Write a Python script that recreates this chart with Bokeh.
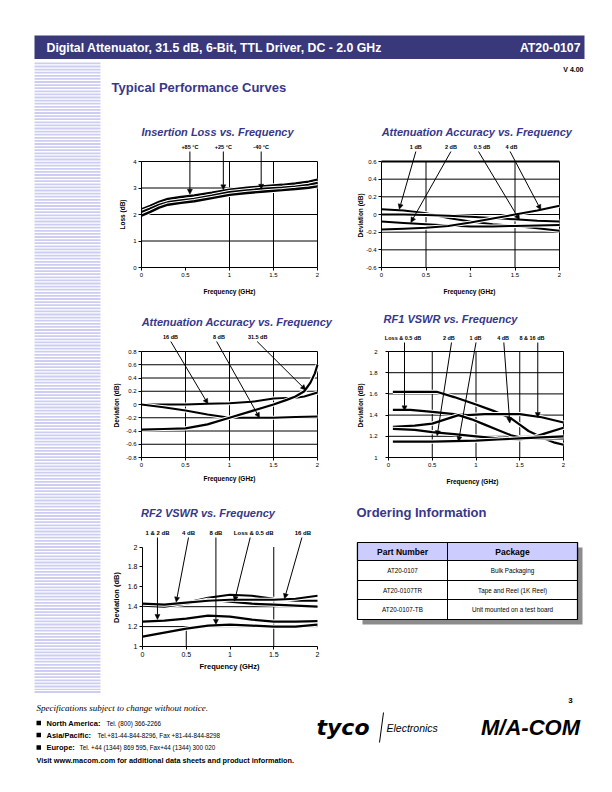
import math
from bokeh.plotting import figure
from bokeh.layouts import column, row
from bokeh.models import Range1d, FixedTicker, Arrow, NormalHead, ColumnDataSource
from bokeh.core.properties import value
from bokeh.embed import file_html
from bokeh.resources import INLINE

# ------------------------------------------------------------------ data
freq_ticks = [0, 0.5, 1, 1.5, 2]
freq_tick_labels = ["0", "0.5", "1", "1.5", "2"]

# Insertion loss vs frequency
il_freq = [0, 0.1, 0.2, 0.3, 0.45, 0.6, 0.8, 1.0, 1.2, 1.4, 1.6, 1.75, 1.9, 2.0]
il_p85 = [2.19, 2.33, 2.48, 2.59, 2.66, 2.72, 2.82, 2.94, 3.01, 3.07, 3.12, 3.17, 3.24, 3.31]
il_p25 = [2.09, 2.22, 2.36, 2.46, 2.53, 2.59, 2.71, 2.84, 2.91, 2.97, 3.01, 3.05, 3.12, 3.19]
il_m40 = [1.96, 2.10, 2.26, 2.37, 2.44, 2.50, 2.62, 2.74, 2.81, 2.87, 2.92, 2.96, 3.01, 3.06]
il_ticks = [0, 1, 2, 3, 4]
il_tick_labels = ["0", "1", "2", "3", "4"]
il_names = ["+85 °C", "+25 °C", "-40 °C"]
il_name_x = [0.55, 0.93, 1.36]
il_tip_x = [0.55, 0.93, 1.36]
il_tip_y = [2.76, 2.93, 2.95]

# Attenuation accuracy (1, 0.5, 2, 4 dB)
aa1_freq = [0, 0.25, 0.5, 0.75, 1.0, 1.25, 1.5, 1.75, 2.0]
aa1_1db = [0.06, 0.045, 0.015, -0.04, -0.08, -0.11, -0.13, -0.155, -0.185]
aa1_05db = [0.0, 0.0, -0.005, -0.015, -0.025, -0.04, -0.055, -0.07, -0.08]
aa1_2db = [-0.08, -0.095, -0.11, -0.125, -0.135, -0.135, -0.13, -0.125, -0.12]
aa1_4db = [-0.17, -0.16, -0.15, -0.13, -0.09, -0.045, 0.0, 0.045, 0.1]
aa1_ticks = [-0.6, -0.4, -0.2, 0, 0.2, 0.4, 0.6]
aa1_tick_labels = ["-0.6", "-0.4", "-0.2", "0", "0.2", "0.4", "0.6"]
aa1_names = ["1 dB", "2 dB", "0.5 dB", "4 dB"]
aa1_name_x = [0.385, 0.78, 1.13, 1.46]
aa1_start_x = [0.386, 0.78, 1.09, 1.445]
aa1_tip_x = [0.2, 0.33, 1.55, 1.79]
aa1_tip_y = [0.06, -0.09, -0.06, 0.053]

# Attenuation accuracy (8, 16, 31.5 dB)
aa2_freq_16 = [0, 0.25, 0.5, 0.75, 1.0, 1.25, 1.5, 1.65, 1.75, 1.85, 2.0]
aa2_16db = [0.0, 0.0, 0.0, 0.01, 0.02, 0.04, 0.09, 0.1, 0.1, 0.12, 0.18]
aa2_freq_8 = [0, 0.25, 0.5, 0.75, 1.0, 1.25, 1.5, 1.75, 2.0]
aa2_8db = [0.0, -0.04, -0.09, -0.15, -0.2, -0.2, -0.2, -0.19, -0.18]
aa2_freq_31 = [0, 0.25, 0.5, 0.75, 1.0, 1.25, 1.5, 1.65, 1.75, 1.85, 1.92, 1.97, 2.0]
aa2_31db = [-0.38, -0.37, -0.36, -0.3, -0.2, -0.1, 0.0, 0.07, 0.12, 0.2, 0.33, 0.47, 0.6]
aa2_ticks = [-0.8, -0.6, -0.4, -0.2, 0, 0.2, 0.4, 0.6, 0.8]
aa2_tick_labels = ["-0.8", "-0.6", "-0.4", "-0.2", "0", "0.2", "0.4", "0.6", "0.8"]
aa2_names = ["16 dB", "8 dB", "31.5 dB"]
aa2_name_x = [0.33, 0.88, 1.32]
aa2_start_x = [0.333, 0.854, 1.314]
aa2_tip_x = [0.755, 1.341, 1.866]
aa2_tip_y = [0.01, -0.2, 0.22]

# RF1 VSWR
rf1_freq_a = [0.05, 0.3, 0.55, 0.75, 1.0, 1.2, 1.4, 1.5, 1.6, 1.75, 1.9, 2.0]
rf1_a = [1.62, 1.62, 1.62, 1.57, 1.50, 1.44, 1.37, 1.31, 1.25, 1.19, 1.14, 1.12]
rf1_freq_b = [0.05, 0.25, 0.5, 0.75, 0.9, 1.1, 1.3, 1.5, 1.75, 2.0]
rf1_b = [1.45, 1.45, 1.43, 1.41, 1.40, 1.41, 1.41, 1.41, 1.38, 1.33]
rf1_freq_c = [0.05, 0.3, 0.5, 0.65, 0.8, 0.95, 1.1, 1.25, 1.4, 1.5, 1.65, 1.8, 2.0]
rf1_c = [1.29, 1.30, 1.32, 1.36, 1.40, 1.36, 1.31, 1.26, 1.21, 1.19, 1.18, 1.18, 1.18]
rf1_freq_d = [0.05, 0.3, 0.5, 0.75, 1.0, 1.25, 1.5, 1.65, 1.8, 2.0]
rf1_d = [1.27, 1.26, 1.24, 1.22, 1.20, 1.18, 1.17, 1.19, 1.23, 1.28]
rf1_freq_e = [0.05, 0.5, 1.0, 1.25, 1.5, 1.75, 2.0]
rf1_e = [1.15, 1.15, 1.16, 1.17, 1.18, 1.19, 1.20]
vswr_ticks = [1, 1.2, 1.4, 1.6, 1.8, 2]
vswr_tick_labels = ["1", "1.2", "1.4", "1.6", "1.8", "2"]
rf1_names = ["Loss & 0.5  dB", "2 dB", "1 dB", "4 dB", "8 & 16 dB"]
rf1_name_x = [0.175, 0.69, 0.995, 1.31, 1.64]
rf1_start_x = [0.183, 0.72, 1.0, 1.318, 1.706]
rf1_tip_x = [0.183, 0.556, 0.80, 1.386, 1.706]
rf1_tip_y = [1.44, 1.205, 1.15, 1.325, 1.377]

# RF2 VSWR
rf2_freq = [0, 0.25, 0.5, 0.75, 1.0, 1.25, 1.5, 1.75, 2.0]
rf2_a = [1.42, 1.41, 1.44, 1.49, 1.52, 1.51, 1.48, 1.46, 1.46]
rf2_b = [1.41, 1.40, 1.43, 1.47, 1.45, 1.43, 1.42, 1.41, 1.40]
rf2_c = [1.43, 1.42, 1.44, 1.46, 1.47, 1.47, 1.47, 1.48, 1.51]
rf2_d = [1.25, 1.26, 1.28, 1.31, 1.30, 1.27, 1.25, 1.25, 1.255]
rf2_e = [1.10, 1.14, 1.18, 1.21, 1.22, 1.21, 1.20, 1.20, 1.22]
rf2_names = ["1 & 2 dB", "4 dB", "8 dB", "Loss & 0.5  dB", "16 dB"]
rf2_name_x = [0.171, 0.526, 0.839, 1.28, 1.833]
rf2_start_x = [0.171, 0.526, 0.839, 1.231, 1.822]
rf2_tip_x = [0.171, 0.385, 0.839, 1.051, 1.623]
rf2_tip_y = [1.272, 1.446, 1.222, 1.456, 1.48]

# Ordering information
order_cols = ["Part Number", "Package"]
order_parts = ["AT20-0107", "AT20-0107TR", "AT20-0107-TB"]
order_pkgs = ["Bulk Packaging", "Tape and Reel (1K Reel)", "Unit mounted on a test board"]

# ------------------------------------------------------------------ style
FONT = "Liberation Sans"
SERIF = "Liberation Serif"
NAVY = "#38387a"
TITLE_BLUE = "#37378a"
STRIPE = "#cdcdf3"


def pfig(x0, x1, y0, y1):
    p = figure(width=x1 - x0, height=y1 - y0, x_range=Range1d(x0, x1), y_range=Range1d(y1, y0),
               output_backend="svg", toolbar_location=None, min_border=0,
               x_axis_type=None, y_axis_type=None, title=None)
    p.outline_line_color = None
    p.background_fill_color = "white"
    p.border_fill_color = "white"
    return p


def txt(p, x, y, s, size, style="normal", color="black", align="left", font=FONT, angle=0.0):
    p.text(x=[x], y=[y], text=[s], text_font=value(font), text_font_size=f"{size}px",
           text_font_style=style, text_color=color, text_align=align,
           text_baseline="middle", angle=angle)


class Chart:
    def __init__(self, box, fl, fb, xpx, ypx, ymin, ymax, yticks, ylabels,
                 ystand=2, tick_size=6):
        x0, y0, x1, y1 = box
        self.fl, self.fb, self.xpx, self.ypx, self.ymin = fl, fb, xpx, ypx, ymin
        p = figure(width=x1 - x0, height=y1 - y0,
                   x_range=Range1d(self.dx(x0), self.dx(x1)),
                   y_range=Range1d(self.dy(y1), self.dy(y0)),
                   min_border=0, output_backend="svg", toolbar_location=None, title=None)
        p.outline_line_color = None
        p.grid.visible = False
        p.background_fill_color = "white"
        p.border_fill_color = "white"
        for ax, ticks, labels, bounds, stand, loc in (
                (p.xaxis[0], freq_ticks, freq_tick_labels, (0, 2), 2, ymin),
                (p.yaxis[0], yticks, ylabels, (ymin, ymax), ystand, 0)):
            ax.fixed_location = loc
            ax.ticker = FixedTicker(ticks=ticks)
            ax.major_label_overrides = dict(zip(ticks, labels))
            ax.bounds = bounds
            ax.minor_tick_line_color = None
            ax.major_tick_out = 3
            ax.major_tick_in = 0
            ax.major_tick_line_color = "black"
            ax.axis_line_color = "black"
            ax.axis_line_width = 1
            ax.major_label_standoff = stand
            ax.major_label_text_font = FONT
            ax.major_label_text_font_size = f"{tick_size}px"
            ax.major_label_text_color = "black"
        self.p = p
        self.ymax = ymax

    def dx(self, px):
        return (px - self.fl) / self.xpx

    def dy(self, py):
        return self.ymin + (self.fb - py) / self.ypx

    def grid(self, xlines, ylines, yspan=None, lw=1.0):
        p = self.p
        ys = yspan if yspan else (self.ymin, self.ymax)
        if xlines:
            p.segment(x0=xlines, x1=xlines, y0=[ys[0]] * len(xlines), y1=[ys[1]] * len(xlines),
                      line_color="black", line_width=lw)
        if ylines:
            p.segment(x0=[0] * len(ylines), x1=[2] * len(ylines), y0=ylines, y1=ylines,
                      line_color="black", line_width=lw)

    def curve(self, xs, ys, w=2.2):
        self.p.line(xs, ys, line_color="white", line_width=w + 2)
        self.p.line(xs, ys, line_color="black", line_width=w)

    def title(self, s, px, py, size=11):
        txt(self.p, self.dx(px), self.dy(py), s, size, "bold italic", TITLE_BLUE, "center")

    def names(self, names, xs, py, sx, tx, ty, py_start, size=5.5):
        p = self.p
        y = self.dy(py)
        p.text(x=xs, y=[y] * len(xs), text=names, text_font=value(FONT),
               text_font_size=f"{size}px", text_font_style="bold", text_align="center",
               text_baseline="middle", text_color="black")
        src = ColumnDataSource(dict(xs=sx, ys=[self.dy(py_start)] * len(sx), xe=tx, ye=ty))
        p.add_layout(Arrow(end=NormalHead(size=5, fill_color="black", line_color="black",
                                          line_width=0.5),
                           x_start="xs", y_start="ys", x_end="xe", y_end="ye", source=src,
                           line_color="black", line_width=1))

    def axis_labels(self, xlab, xpos, ylab, ypos, size=6.5):
        txt(self.p, self.dx(xpos[0]), self.dy(xpos[1]), xlab, size, "bold", "black", "center")
        txt(self.p, self.dx(ypos[0]), self.dy(ypos[1]), ylab, size, "bold", "black", "center",
            angle=math.pi / 2)


# ------------------------------------------------------------------ header
top = pfig(0, 612, 0, 60)
top.quad(left=[34], right=[584], top=[35], bottom=[58.5], fill_color=NAVY, line_color=None)
txt(top, 46, 47, "Digital Attenuator, 31.5 dB, 6-Bit, TTL Driver, DC - 2.0 GHz", 12.3, "bold", "white")
txt(top, 580, 47, "AT20-0107", 12.3, "bold", "white", "right")

# left decorative stripe
stripe = pfig(0, 104, 60, 690)
sy = [62 + 3.1 * i for i in range(203)]
stripe.quad(left=[34] * len(sy), right=[100] * len(sy), top=sy, bottom=[v + 1.8 for v in sy],
            fill_color=STRIPE, line_color=None)

# section heading
sec = pfig(104, 612, 60, 118)
txt(sec, 583, 68.5, "V 4.00", 7, "bold", "black", "right")
txt(sec, 111, 87, "Typical Performance Curves", 13, "bold", TITLE_BLUE)

# ------------------------------------------------------------------ chart 1
c1 = Chart((104, 118, 340, 300), 141, 267, 88, 26.5, 0, 4, il_ticks, il_tick_labels)
c1.grid([1, 1.5, 2], [1, 2, 3, 4])
for ys in (il_p85, il_p25, il_m40):
    c1.curve(il_freq, ys, 2.4)
c1.title("Insertion Loss vs. Frequency", 217, 131)
c1.names(il_names, il_name_x, 146.5, il_tip_x, il_tip_x, il_tip_y, 151)
c1.axis_labels("Frequency (GHz)", (229, 291), "Loss (dB)", (122, 214))

# ------------------------------------------------------------------ chart 2
c2 = Chart((340, 118, 612, 300), 381, 267, 89, 88.33, -0.6, 0.6, aa1_ticks, aa1_tick_labels)
c2.grid([0.5, 1.5, 2], [-0.4, -0.2, 0, 0.2, 0.4])
c2.grid([], [0.6], lw=2)
for ys in (aa1_1db, aa1_05db, aa1_2db, aa1_4db):
    c2.curve(aa1_freq, ys, 2.0)
c2.title("Attenuation Accuracy vs. Frequency", 476.5, 131)
c2.names(aa1_names, aa1_name_x, 146.5, aa1_start_x, aa1_tip_x, aa1_tip_y, 151)
c2.axis_labels("Frequency (GHz)", (469, 291), "Deviation  (dB)", (360, 214))

# ------------------------------------------------------------------ chart 3
c3 = Chart((104, 300, 340, 490), 141, 457, 88, 66.25, -0.8, 0.8, aa2_ticks, aa2_tick_labels)
c3.grid([0.5, 1, 1.5, 2], [-0.6, -0.4, -0.2, 0.2, 0.4, 0.6, 0.8])
c3.curve(aa2_freq_16, aa2_16db, 2.0)
c3.curve(aa2_freq_8, aa2_8db, 2.0)
c3.curve(aa2_freq_31, aa2_31db, 2.2)
c3.title("Attenuation Accuracy vs. Frequency", 236.5, 321)
c3.names(aa2_names, aa2_name_x, 336, aa2_start_x, aa2_tip_x, aa2_tip_y, 341)
c3.axis_labels("Frequency (GHz)", (229, 478), "Deviation  (dB)", (116, 404))

# ------------------------------------------------------------------ chart 4
c4 = Chart((340, 300, 612, 490), 388, 457, 87.5, 106, 1, 2, vswr_ticks, vswr_tick_labels, ystand=8)
c4.grid([0.5, 1, 1.5, 2], [1.2, 1.4, 1.6, 1.8, 2])
c4.curve(rf1_freq_a, rf1_a)
c4.curve(rf1_freq_b, rf1_b)
c4.curve(rf1_freq_c, rf1_c)
c4.curve(rf1_freq_d, rf1_d)
c4.curve(rf1_freq_e, rf1_e)
c4.title("RF1 VSWR vs. Frequency", 450, 318)
c4.names(rf1_names, rf1_name_x, 337.5, rf1_start_x, rf1_tip_x, rf1_tip_y, 342)
c4.axis_labels("Frequency (GHz)", (472, 481), "Deviation  (dB)", (360, 404))

# ------------------------------------------------------------------ chart 5
c5 = Chart((104, 490, 340, 690), 142, 646, 87.5, 99.5, 1, 2, vswr_ticks, vswr_tick_labels, tick_size=7)
c5.grid([1.5], [1.2, 1.4])
c5.grid([0.5], [], yspan=(1, 1.2))
for ys in (rf2_a, rf2_b, rf2_c, rf2_d, rf2_e):
    c5.curve(rf2_freq, ys, 2.2)
c5.title("RF2 VSWR vs. Frequency", 207.5, 512)
c5.names(rf2_names, rf2_name_x, 532.5, rf2_start_x, rf2_tip_x, rf2_tip_y, 537, size=6)
c5.axis_labels("Frequency (GHz)", (229, 666), "Deviation  (dB)", (116, 596), size=7.5)

# ------------------------------------------------------------------ ordering information
od = pfig(340, 612, 490, 690)
txt(od, 356, 511.5, "Ordering Information", 13, "bold", TITLE_BLUE)
od.quad(left=[362], right=[582], top=[547], bottom=[624], fill_color="#8c8c8c", line_color=None)
od.quad(left=[357], right=[577], top=[542], bottom=[619], fill_color="white", line_color="black", line_width=1.2)
od.quad(left=[357], right=[577], top=[542], bottom=[560], fill_color="#ccccff", line_color="black", line_width=1.2)
od.segment(x0=[357, 357, 447], x1=[577, 577, 447], y0=[580, 599, 542], y1=[580, 599, 619],
           line_color="black", line_width=1)
col_x = [402, 512]
for cx, s in zip(col_x, order_cols):
    txt(od, cx, 551, s, 8.5, "bold", "black", "center")
row_y = [569.5, 589.5, 609]
for ry, a, b in zip(row_y, order_parts, order_pkgs):
    txt(od, col_x[0], ry, a, 6.3, "normal", "black", "center")
    txt(od, col_x[1], ry, b, 6.3, "normal", "black", "center")

# ------------------------------------------------------------------ footer
ft = pfig(0, 612, 690, 792)
ft.quad(left=[34], right=[100], top=[690.5], bottom=[692.5], fill_color=STRIPE, line_color=None)
txt(ft, 36, 707.5, "Specifications subject to change without notice.", 9, "italic", "black", "left", SERIF)
by = [722.5, 734.5, 747]
ft.quad(left=[36] * 3, right=[40.5] * 3, top=[v - 2.3 for v in by], bottom=[v + 2.2 for v in by],
        fill_color="black", line_color=None)
heads = ["North America:", "Asia/Pacific:", "Europe:"]
head_w = [57, 48, 30]
rest = ["Tel. (800) 366-2266", "Tel.+81-44-844-8296,  Fax +81-44-844-8298",
        "Tel. +44 (1344) 869 595,  Fax+44 (1344) 300 020"]
for yy, h, hw, r in zip(by, heads, head_w, rest):
    txt(ft, 46, yy, h, 7.5, "bold")
    txt(ft, 46 + hw + 3, yy, r, 6.3, "normal")
txt(ft, 36, 759.5, "Visit www.macom.com for additional data sheets and product information.", 7.3, "bold")
txt(ft, 316, 727, "tyco", 22, "bold italic", "black", "left", "DejaVu Sans")
ft.segment(x0=[383], y0=[712], x1=[379], y1=[742], line_color="black", line_width=1)
txt(ft, 386, 727, "Electronics", 10.5, "italic", "black", "left", FONT)
txt(ft, 530, 727, "M/A-COM", 22, "bold italic", "black", "center", FONT)
txt(ft, 570, 700, "3", 8, "bold", "black", "center")

# ------------------------------------------------------------------ layout
mid = column(sec, row(c1.p, c2.p), row(c3.p, c4.p), row(c5.p, od))
page = column(top, row(stripe, mid), ft)

open("out.html", "w").write(file_html(page, INLINE))
